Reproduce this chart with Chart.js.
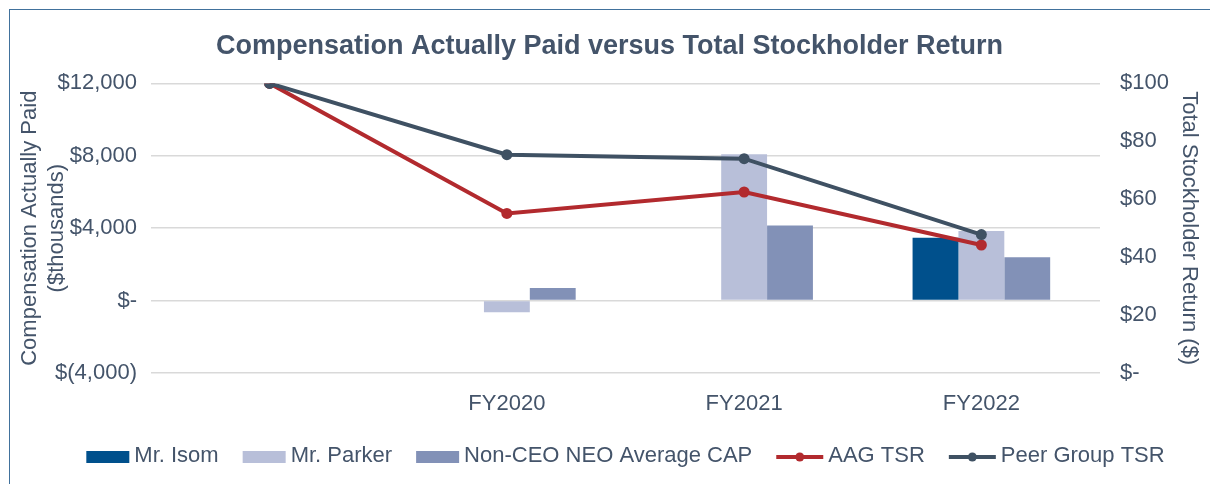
<!DOCTYPE html>
<html>
<head>
<meta charset="utf-8">
<script src="https://cdn.jsdelivr.net/npm/chart.js@4.4.1/dist/chart.umd.min.js"></script>
<style>
  html, body { margin: 0; padding: 0; background: #fff; }
  #wrap { position: relative; width: 1210px; height: 484px; overflow: hidden; }
  #frame {
    position: absolute; left: 9px; top: 9px; right: -10px; bottom: -10px;
    border-left: 1px solid #41719C; border-top: 1px solid #41719C;
    pointer-events: none;
  }
</style>
</head>
<body>
<div id="wrap">
  <canvas id="capChart" width="1210" height="484"></canvas>
  <div id="frame"></div>
</div>
<script>
// values
const categories = ['', 'FY2020', 'FY2021', 'FY2022'];
const isomCap = [null, null, null, 3470];
const parkerCap = [null, -640, 8090, 3850];
const neoAvgCap = [null, 700, 4150, 2390];
const aagTsr = [100, 55.1, 62.5, 44.2];
const peerTsr = [100, 75.4, 74.0, 47.8];
const capTicks = [-4000, 0, 4000, 8000, 12000];
const tsrTicks = [0, 20, 40, 60, 80, 100];

const FONT = '"Liberation Sans", Arial, sans-serif';
const TEXT = '#44546A';

function fmtCap(v) {
  if (v === 0) return '$-';
  const s = Math.abs(v).toLocaleString('en-US');
  return v < 0 ? '$(' + s + ')' : '$' + s;
}
function fmtTsr(v) {
  return v === 0 ? '$-' : '$' + v;
}

// legend drawn under the plot: boxes for bars, line + dot for lines
const bottomLegend = {
  id: 'bottomLegend',
  afterDraw(chart) {
    const ctx = chart.ctx;
    const area = chart.chartArea;
    const gap = 24;
    ctx.save();
    ctx.font = '22px ' + FONT;
    const items = chart.data.datasets.map(ds => {
      const sym = ds.type === 'line' ? 47 : 43;
      return { ds, sym, w: sym + 5 + ctx.measureText(ds.label).width };
    });
    const total = items.reduce((s, it) => s + it.w, 0) + gap * (items.length - 1);
    let x = (area.left + area.right) / 2 - total / 2;
    const y = 457;
    items.forEach(it => {
      const ds = it.ds;
      if (ds.type === 'line') {
        ctx.strokeStyle = ds.borderColor;
        ctx.lineWidth = 4;
        ctx.beginPath();
        ctx.moveTo(x, y);
        ctx.lineTo(x + it.sym, y);
        ctx.stroke();
        ctx.fillStyle = ds.borderColor;
        ctx.beginPath();
        ctx.arc(x + it.sym / 2, y, 4.5, 0, Math.PI * 2);
        ctx.fill();
      } else {
        ctx.fillStyle = ds.backgroundColor;
        ctx.fillRect(x, y - 6, it.sym, 12);
      }
      x += it.sym + 5;
      ctx.fillStyle = TEXT;
      ctx.textBaseline = 'middle';
      ctx.fillText(ds.label, x, y - 1);
      x += ctx.measureText(ds.label).width + gap;
    });
    ctx.restore();
  }
};

new Chart(document.getElementById('capChart'), {
  data: {
    labels: categories,
    datasets: [
      { type: 'bar', label: 'Mr. Isom', data: isomCap, backgroundColor: '#00508C', yAxisID: 'y', order: 2 },
      { type: 'bar', label: 'Mr. Parker', data: parkerCap, backgroundColor: '#B8BFD9', yAxisID: 'y', order: 2 },
      { type: 'bar', label: 'Non-CEO NEO Average CAP', data: neoAvgCap, backgroundColor: '#8291B7', yAxisID: 'y', order: 2 },
      {
        type: 'line', label: 'AAG TSR', data: aagTsr, yAxisID: 'y1', order: 1,
        borderColor: '#B22A2E', backgroundColor: '#B22A2E', borderWidth: 4,
        pointRadius: 5.5, pointBackgroundColor: '#B22A2E', pointBorderWidth: 0, tension: 0
      },
      {
        type: 'line', label: 'Peer Group TSR', data: peerTsr, yAxisID: 'y1', order: 0,
        borderColor: '#3F5163', backgroundColor: '#3F5163', borderWidth: 4,
        pointRadius: 5.5, pointBackgroundColor: '#3F5163', pointBorderWidth: 0, tension: 0
      }
    ]
  },
  options: {
    responsive: false,
    animation: false,
    devicePixelRatio: 1,
    layout: { padding: { left: 17, right: 8, top: 0, bottom: 0 } },
    datasets: {
      bar: { barPercentage: 1, categoryPercentage: 0.58 }
    },
    plugins: {
      legend: { display: false },
      tooltip: { enabled: false },
      title: {
        display: true,
        text: 'Compensation Actually Paid versus Total Stockholder Return',
        color: TEXT,
        font: { family: FONT, size: 27, weight: 'bold' },
        padding: { top: 30, bottom: 21 }
      }
    },
    scales: {
      x: {
        offset: true,
        grid: { display: false },
        border: { display: false },
        ticks: { color: TEXT, font: { family: FONT, size: 22 }, padding: 10 },
        afterFit(scale) { scale.height = 111; }
      },
      y: {
        position: 'left',
        min: -4000,
        max: 12000,
        afterBuildTicks(scale) { scale.ticks = capTicks.map(v => ({ value: v })); },
        grid: { color: '#D9D9D9', lineWidth: 1.5, drawTicks: false },
        border: { display: false },
        ticks: { color: TEXT, font: { family: FONT, size: 22 }, padding: 14, callback: fmtCap },
        title: {
          display: true,
          text: ['Compensation Actually Paid', '($thousands)'],
          color: TEXT,
          font: { family: FONT, size: 22, lineHeight: 1.2 },
          padding: 0
        },
        afterFit(scale) { scale.width = 134; }
      },
      y1: {
        position: 'right',
        min: 0,
        max: 100,
        afterBuildTicks(scale) { scale.ticks = tsrTicks.map(v => ({ value: v })); },
        grid: { display: false, drawTicks: false },
        border: { display: false },
        ticks: { color: TEXT, font: { family: FONT, size: 22 }, padding: 20, callback: fmtTsr },
        title: {
          display: true,
          text: 'Total Stockholder Return ($)',
          color: TEXT,
          font: { family: FONT, size: 22, lineHeight: 1.2 },
          padding: 0
        },
        afterFit(scale) { scale.width = 102; }
      }
    }
  },
  plugins: [bottomLegend]
});
</script>
</body>
</html>
